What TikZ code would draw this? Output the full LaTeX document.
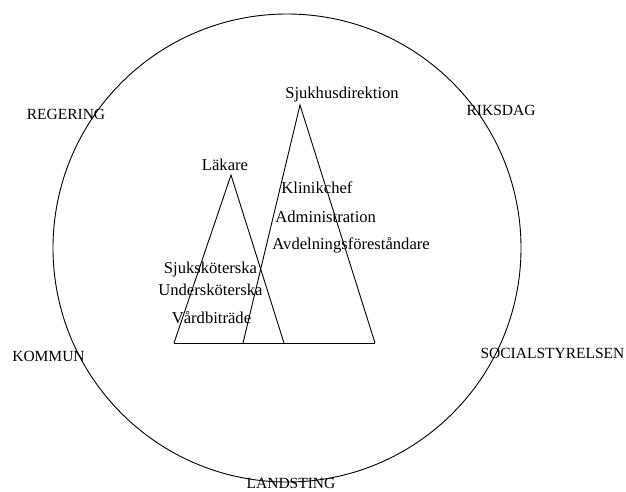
\documentclass[tikz,border=0pt]{standalone}
\usepackage{fontspec}
\setmainfont{Liberation Serif}

\begin{document}
\begin{tikzpicture}[x=1pt,y=-1pt,line width=0.9pt]

% styles
\tikzset{lbl/.style={inner sep=0pt,font=\fontsize{15.5}{18}\selectfont},
  role/.style={inner sep=0pt,font=\fontsize{16.6}{19}\selectfont}}

% geometry
\def\cx{287}
\def\cy{248}
\def\R{234}
\def\base{343}

\useasboundingbox (0,0) rectangle (626,492);

% outer circle
\draw (\cx,\cy) circle[radius=\R];

% two triangles
\draw (174,\base) -- (231,175) -- (284,\base);
\draw (243,\base) -- (300,105) -- (375,\base);
\draw (174,\base) -- (375,\base);

% triangle labels
\node[role] (sjukhus) at (342,95) {Sjukhusdirektion};
\node[role] (lakare) at (225,165) {Läkare};
\node[role,anchor=west] (klinik) at (281,188) {Klinikchef};
\node[role,anchor=west] (admin) at (275,217) {Administration};
\node[role,anchor=west] (avdeln) at (272,245) {Avdelningsföreståndare};
\node[role] (sjukskot) at (210.5,270) {Sjuksköterska};
\node[role] (underskot) at (210.5,290) {Undersköterska};
\node[role] (vardbitr) at (211.5,318) {Vårdbiträde};

% outer labels
\node[lbl] (regering) at (66,114) {REGERING};
\node[lbl] (riksdag) at (501,110) {RIKSDAG};
\node[lbl] (kommun) at (48.5,356) {KOMMUN};
\node[lbl] (social) at (552.5,353) {SOCIALSTYRELSEN};
\node[lbl] (landsting) at (291,483) {LANDSTING};

\end{tikzpicture}
\end{document}
